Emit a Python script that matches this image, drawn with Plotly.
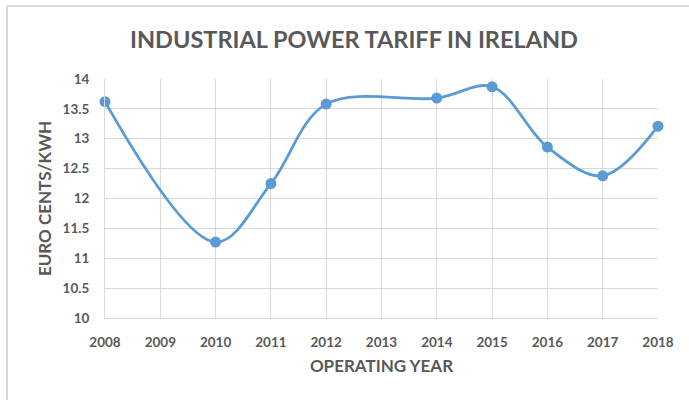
import plotly.graph_objects as go

years = [2008, 2010, 2011, 2012, 2014, 2015, 2016, 2017, 2018]
tariff = [13.62, 11.27, 12.25, 13.58, 13.68, 13.87, 12.86, 12.38, 13.21]
x_ticks = list(range(2008, 2019))
y_ticks = [10, 10.5, 11, 11.5, 12, 12.5, 13, 13.5, 14]

W, H = 689, 400
ml, mr, mt, mb = 105, 31, 79, 82
pw, ph = W - ml - mr, H - mt - mb

def px_to_paper_x(px):
    return (px - ml) / pw

def py_to_paper_y(py):
    return (H - mb - py) / ph

font_fam = "Lato, 'Open Sans', sans-serif"
grey = "#595959"

fig = go.Figure()
fig.add_trace(go.Scatter(
    x=years, y=tariff, mode="lines+markers",
    line=dict(color="#5B9BD5", width=2.8, shape="spline", smoothing=1.0),
    marker=dict(color="#5B9BD5", size=11),
    cliponaxis=False, showlegend=False,
))

fig.update_layout(
    width=W, height=H,
    margin=dict(l=ml, r=mr, t=mt, b=mb),
    paper_bgcolor="white", plot_bgcolor="white",
    title=dict(text="<b>INDUSTRIAL POWER TARIFF IN IRELAND</b>",
               x=354 / W, xanchor="center", xref="container",
               y=1 - 40 / H, yanchor="middle",
               font=dict(family=font_fam, size=23.5, color=grey)),
    xaxis=dict(range=[2008, 2018], tickvals=x_ticks,
               ticktext=[f"<b>{t}</b>" for t in x_ticks],
               showgrid=True, gridcolor="#d9d9d9", gridwidth=1,
               showline=True, linecolor="#d9d9d9", linewidth=1,
               zeroline=False, ticks="outside", ticklen=12,
               tickcolor="rgba(0,0,0,0)",
               tickfont=dict(family=font_fam, size=13.5, color=grey),
               title=dict(text="<b>OPERATING YEAR</b>", standoff=10,
                          font=dict(family=font_fam, size=17, color=grey))),
    yaxis=dict(range=[10, 14], tickvals=y_ticks,
               ticktext=[f"<b>{t:g}</b>" for t in y_ticks],
               showgrid=True, gridcolor="#d9d9d9", gridwidth=1,
               showline=True, linecolor="#d9d9d9", linewidth=1,
               zeroline=False, ticks="outside", ticklen=12,
               tickcolor="rgba(0,0,0,0)",
               tickfont=dict(family=font_fam, size=13.5, color=grey),
               title=dict(text="<b>EURO CENTS/KWH</b>", standoff=6,
                          font=dict(family=font_fam, size=17, color=grey))),
    shapes=[
        dict(type="line", xref="paper", yref="paper",
             x0=px_to_paper_x(7), x1=px_to_paper_x(700),
             y0=py_to_paper_y(6), y1=py_to_paper_y(6),
             line=dict(color="#d9d9d9", width=2)),
        dict(type="line", xref="paper", yref="paper",
             x0=px_to_paper_x(7), x1=px_to_paper_x(7),
             y0=py_to_paper_y(6), y1=py_to_paper_y(410),
             line=dict(color="#d9d9d9", width=2)),
    ],
)

fig.write_html("out.html",
               config={"displayModeBar": False},
               post_script="document.body.style.margin='0';document.body.style.overflow='hidden';")
